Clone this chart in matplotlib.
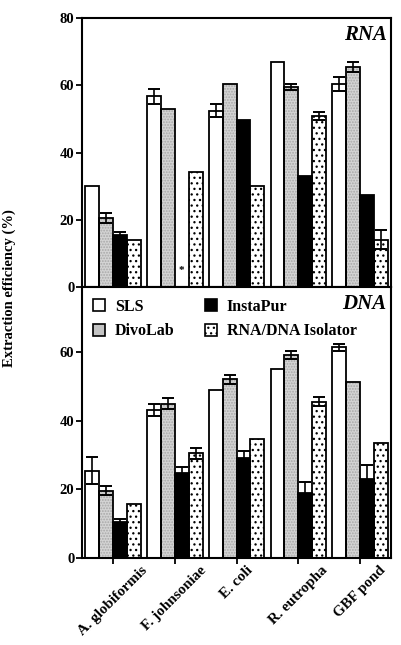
import matplotlib
matplotlib.use("Agg")
import matplotlib.pyplot as plt
from matplotlib.patches import Patch
import numpy as np

plt.rcParams['font.family'] = ['Liberation Serif', 'DejaVu Serif']
plt.rcParams['font.weight'] = 'bold'
plt.rcParams['hatch.linewidth'] = 0.9

categories = ["A. globiformis", "F. johnsoniae", "E. coli", "R. eutropha", "GBF pond"]
methods = ["SLS", "DivoLab", "InstaPur", "RNA/DNA Isolator"]

rna_sls = [30.0, 56.7, 52.5, 66.8, 60.5]
rna_divolab = [20.5, 52.9, 60.4, 59.5, 65.4]
rna_instapur = [15.4, np.nan, 49.8, 32.9, 27.5]
rna_isolator = [14.1, 34.1, 29.9, 50.9, 14.1]
rna_sls_err = [0, 2.2, 1.8, 0, 2.1]
rna_divolab_err = [1.5, 0, 0, 1.0, 1.5]
rna_instapur_err = [1.0, 0, 0, 0, 0]
rna_isolator_err = [0, 0, 0, 1.2, 2.9]

dna_sls = [25.4, 43.2, 49.1, 55.0, 61.4]
dna_divolab = [19.6, 44.9, 52.1, 59.2, 51.2]
dna_instapur = [10.6, 24.7, 29.1, 19.0, 23.0]
dna_isolator = [15.6, 30.5, 34.6, 45.5, 33.6]
dna_sls_err = [3.9, 1.7, 0, 0, 1.0]
dna_divolab_err = [1.3, 1.6, 1.3, 1.1, 0]
dna_instapur_err = [0.8, 1.9, 2.1, 3.2, 4.0]
dna_isolator_err = [0, 1.7, 0, 1.3, 0]

# fill style: (facecolor, hatch colour, hatch)
fills = [
    ('white', 'white', None),
    ('#d4d4d4', '#a8a8a8', '......'),
    ('black', 'black', None),
    ('white', 'black', '...'),
]

fig = plt.figure(figsize=(4.02, 6.45), dpi=100)
ax1 = fig.add_axes([0.204, 0.555, 0.769, 0.417])
ax2 = fig.add_axes([0.204, 0.135, 0.769, 0.420])

x = np.arange(len(categories))
w = 0.225
offsets = (np.arange(4) - 1.5) * w

def draw(ax, vals, errs):
    for i, (v, e) in enumerate(zip(vals, errs)):
        fc, hc, hatch = fills[i]
        vv = np.nan_to_num(np.array(v, dtype=float))
        ax.bar(x + offsets[i], vv, width=w, linewidth=0, facecolor=fc,
               edgecolor=hc, hatch=hatch, zorder=2)
        ax.bar(x + offsets[i], vv, width=w, linewidth=1.3, facecolor='none',
               edgecolor='black', zorder=2.5)
        vv = np.array(v, dtype=float)
        ee = np.array(e, dtype=float)
        m = (ee > 0) & ~np.isnan(vv)
        ax.errorbar((x + offsets[i])[m], vv[m], yerr=ee[m], fmt='none',
                    ecolor='black', elinewidth=1.2, capsize=4.5, capthick=1.4, zorder=3)
    ax.set_xlim(-0.5, 4.5)
    for s in ax.spines.values():
        s.set_linewidth(1.5)
    ax.tick_params(axis='both', direction='out', width=1.3, length=4, labelsize=10.5, pad=1.5)
    ax.set_xticks(x)

draw(ax1, [rna_sls, rna_divolab, rna_instapur, rna_isolator],
     [rna_sls_err, rna_divolab_err, rna_instapur_err, rna_isolator_err])
draw(ax2, [dna_sls, dna_divolab, dna_instapur, dna_isolator],
     [dna_sls_err, dna_divolab_err, dna_instapur_err, dna_isolator_err])

ax1.set_ylim(0, 80)
ax1.set_yticks([0, 20, 40, 60, 80])
ax1.set_xticklabels([])
ax1.text(1 + offsets[2], 5.0, '*', ha='center', va='center', fontsize=8)
ax1.text(0.985, 0.975, 'RNA', transform=ax1.transAxes, ha='right', va='top',
         fontsize=15, fontstyle='italic', fontweight='bold')

ax2.set_ylim(0, 79)
ax2.set_yticks([0, 20, 40, 60])
ax2.set_xticklabels(categories, rotation=45, ha='center', va='top', fontsize=10.8)
ax2.tick_params(axis='x', pad=0)
ax2.text(0.985, 0.975, 'DNA', transform=ax2.transAxes, ha='right', va='top',
         fontsize=15, fontstyle='italic', fontweight='bold')

handles = []
for fc, hc, hatch in fills:
    handles.append(Patch(facecolor=fc, edgecolor='black', hatch=hatch, linewidth=1.2))
handles[1] = Patch(facecolor='#c4c4c4', edgecolor='black', linewidth=1.2)
leg = ax2.legend(handles, methods, ncol=2,
                 loc='upper left', bbox_to_anchor=(-0.01, 1.01), frameon=False,
                 fontsize=11.5, handlelength=0.75, handleheight=0.75,
                 columnspacing=1.9, handletextpad=0.6, labelspacing=0.55)

fig.text(0.022, 0.553, 'Extraction efficiency (%)', rotation=90, ha='center', va='center',
         fontsize=10.5)

fig.savefig('out.png', dpi=100)
